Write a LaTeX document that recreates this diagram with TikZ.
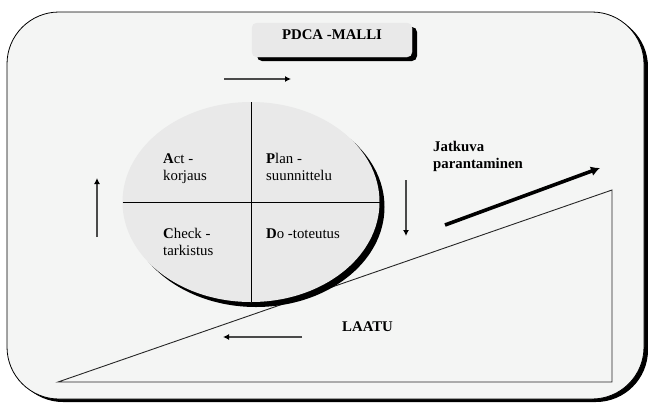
\documentclass[tikz,border=0pt]{standalone}
\usepackage{fontspec}
\setmainfont{Liberation Serif}
\usetikzlibrary{arrows.meta,calc}
\definecolor{panel}{HTML}{F4F5F4}
\definecolor{cellfill}{HTML}{E9E9E9}
\definecolor{linegray}{HTML}{4A4A4A}
\begin{document}
\begin{tikzpicture}[x=1pt,y=-1pt,
  txt/.style={anchor=base west,inner sep=0pt,font=\fontsize{14.8}{17}\selectfont},
  bold/.style={txt,font=\fontsize{14.8}{17}\selectfont\bfseries},
  thinarrow/.style={draw=linegray,line width=1.3pt,-{Latex[length=6pt,width=6pt,black]}},
  thickarrow/.style={draw=black,line width=3.6pt,-{Latex[length=9pt,width=10pt]}},
  edge/.style={draw=black!85,line width=0.9pt}]
\useasboundingbox (0,0) rectangle (648,402);
% outer panel with drop shadow
\fill[black,rounded corners=52pt] (11,15) rectangle (648,402);
\filldraw[fill=panel,draw=black,line width=0.8pt,rounded corners=52pt] (7,12) rectangle (644,399);
% title box with drop shadow
\fill[black,rounded corners=5pt] (257,27) rectangle (417,61);
\filldraw[fill=cellfill,draw=cellfill,rounded corners=5pt] (252,23) rectangle (412,57);
\node[bold,anchor=base] (title) at (332,39) {PDCA -MALLI};
% quality slope
\coordinate (t1) at (58,382);
\coordinate (t2) at (612,190);
\coordinate (t3) at (612,382);
\draw[edge] (t1) -- (t2) -- (t3) -- cycle;
% PDCA wheel
\coordinate (c) at (251,202);
\fill[black] ($(c)+(5,5)$) ellipse [x radius=128.5pt, y radius=100pt];
\fill[cellfill] (c) ellipse [x radius=128.5pt, y radius=100pt];
\draw[black,line width=0.9pt] (251,102) -- (251,302);
\draw[black,line width=0.9pt] (122.5,202) -- (379.5,202);
% multi-line labels are anchored at the baseline of their last line
\node[txt,align=left] (act) at (163,180) {\textbf{A}ct -\\korjaus};
\node[txt,align=left] (plan) at (266,180) {\textbf{P}lan -\\suunnittelu};
\node[txt,align=left] (check) at (163,255) {\textbf{C}heck -\\tarkistus};
\node[txt] (do) at (266,238) {\textbf{D}o -toteutus};
% cycle direction arrows
\coordinate (a1s) at (224,79);  \coordinate (a1e) at (291,79);
\coordinate (a2s) at (406,180); \coordinate (a2e) at (406,236);
\coordinate (a3s) at (302,337); \coordinate (a3e) at (223,337);
\coordinate (a4s) at (97,237);  \coordinate (a4e) at (97,178);
\draw[thinarrow] (a1s) -- (a1e);
\draw[thinarrow] (a2s) -- (a2e);
\draw[thinarrow] (a3s) -- (a3e);
\draw[thinarrow] (a4s) -- (a4e);
% improvement arrow and labels
\coordinate (ims) at (445,225); \coordinate (ime) at (600,168);
\draw[thickarrow] (ims) -- (ime);
\node[bold,align=left] (jatkuva) at (433,168) {Jatkuva\\parantaminen};
\node[bold] (laatu) at (342,331) {LAATU};
\end{tikzpicture}
\end{document}
